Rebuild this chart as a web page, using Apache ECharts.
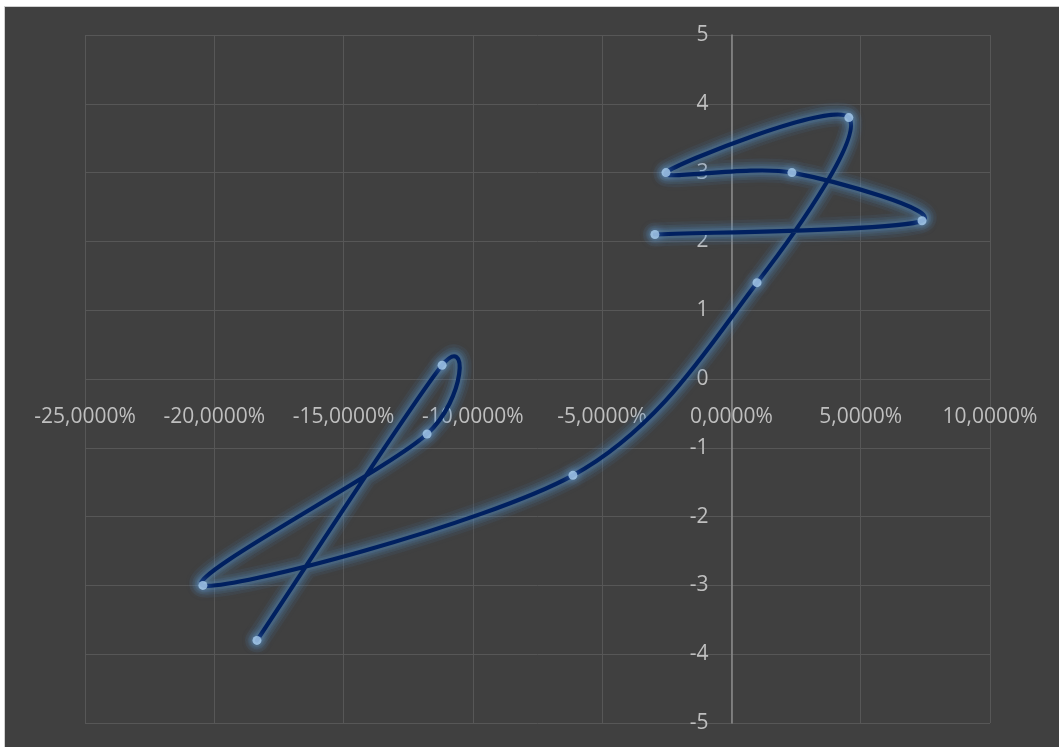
<!DOCTYPE html>
<html>
<head>
<meta charset="utf-8">
<script src="https://cdn.jsdelivr.net/npm/echarts@6/dist/echarts.min.js"></script>
<style>
  html, body { margin: 0; padding: 0; background: #ffffff; width: 1059px; height: 747px; overflow: hidden; }
  #frame { position: absolute; left: 4px; top: 6px; width: 1055px; height: 741px; border-left: 1px solid #d0d0d0; border-top: 1px solid #d0d0d0; background: #404040; }
  #chart { width: 1055px; height: 741px; }
</style>
</head>
<body>
<div id="frame"><div id="chart"></div></div>
<script>
// Return (%) on the horizontal axis, score on the vertical axis, in path order
const xPct = [-18.35, -11.19, -11.77, -20.44, -6.13, 0.99, 4.54, -2.53, 2.34, 7.37, -2.96];
const yVal = [-3.8, 0.2, -0.8, -3.0, -1.4, 1.4, 3.8, 3.0, 3.0, 2.3, 2.1];

const xTicks = { min: -25, max: 10, step: 5 };
const yTicks = { min: -5, max: 5, step: 1 };

const points = xPct.map((x, i) => [x, yVal[i]]);
const TENSION = 0.16;

const labelFont = { color: '#bfbfbf', fontSize: 21, fontFamily: 'Open Sans' };
const gridLine = { lineStyle: { color: '#575757', width: 1 } };

// Whole curve as one SVG path: cubic Beziers with Catmull-Rom style tangents
function curvePath(api) {
  const n = points.length;
  const P = j => api.coord(points[Math.max(0, Math.min(n - 1, j))]);
  const start = P(0);
  let d = 'M' + start[0] + ' ' + start[1];
  for (let i = 0; i < n - 1; i++) {
    const p0 = P(i - 1), p1 = P(i), p2 = P(i + 1), p3 = P(i + 2);
    const c1 = [p1[0] + (p2[0] - p0[0]) * TENSION, p1[1] + (p2[1] - p0[1]) * TENSION];
    const c2 = [p2[0] - (p3[0] - p1[0]) * TENSION, p2[1] - (p3[1] - p1[1]) * TENSION];
    d += ' C' + c1.join(' ') + ' ' + c2.join(' ') + ' ' + p2.join(' ');
  }
  return d;
}

// Soft glow: a few wide, faint strokes under the main line
const haloLayers = [
  { width: 24, alpha: 0.06 },
  { width: 18, alpha: 0.08 },
  { width: 13, alpha: 0.10 },
  { width: 9, alpha: 0.14 }
];

function renderCurve(params, api) {
  if (params.dataIndex !== 0) return null;
  const d = curvePath(api);
  const children = haloLayers.map(h => ({
    type: 'path',
    shape: { pathData: d },
    style: {
      fill: null,
      stroke: 'rgba(91, 155, 213, ' + h.alpha + ')',
      lineWidth: h.width,
      lineCap: 'round',
      lineJoin: 'round',
      shadowColor: 'rgba(91, 155, 213, 0.5)',
      shadowBlur: 6
    }
  }));
  children.push({
    type: 'path',
    shape: { pathData: d },
    style: {
      fill: null,
      stroke: '#002060',
      lineWidth: 4.2,
      lineCap: 'round',
      lineJoin: 'round'
    }
  });
  return { type: 'group', children: children };
}

const option = {
  backgroundColor: '#404040',
  animation: false,
  grid: { left: 80, right: 70, top: 28, bottom: 25 },
  xAxis: {
    type: 'value',
    min: xTicks.min, max: xTicks.max, interval: xTicks.step,
    axisLine: { show: false, onZero: false },
    axisTick: { show: false },
    splitLine: gridLine,
    axisLabel: Object.assign({
      margin: 20,
      formatter: v => v.toFixed(4).replace('.', ',') + '%'
    }, labelFont)
  },
  yAxis: {
    type: 'value',
    min: yTicks.min, max: yTicks.max, interval: yTicks.step,
    axisLine: { show: true, onZero: false, lineStyle: { color: '#8c8c8c', width: 1.5 } },
    axisTick: { show: false },
    splitLine: gridLine,
    axisLabel: Object.assign({ margin: 23 }, labelFont)
  },
  series: [{
    type: 'custom',
    data: points,
    encode: { x: 0, y: 1 },
    renderItem: renderCurve,
    z: 2
  }, {
    type: 'scatter',
    data: points,
    symbol: 'circle',
    symbolSize: 9,
    itemStyle: {
      color: '#a9cdee',
      shadowColor: 'rgba(120, 175, 235, 0.9)',
      shadowBlur: 10
    },
    z: 3
  }]
};

const chart = echarts.init(document.getElementById('chart'), null, { renderer: 'canvas' });
chart.setOption(option);

// Move both axes so they cross at the origin, labels included
const zeroX = chart.convertToPixel({ xAxisIndex: 0 }, 0);
const leftX = chart.convertToPixel({ xAxisIndex: 0 }, xTicks.min);
const zeroY = chart.convertToPixel({ yAxisIndex: 0 }, 0);
const bottomY = chart.convertToPixel({ yAxisIndex: 0 }, yTicks.min);
chart.setOption({
  xAxis: { offset: zeroY - bottomY },
  yAxis: { offset: leftX - zeroX }
});
</script>
</body>
</html>
